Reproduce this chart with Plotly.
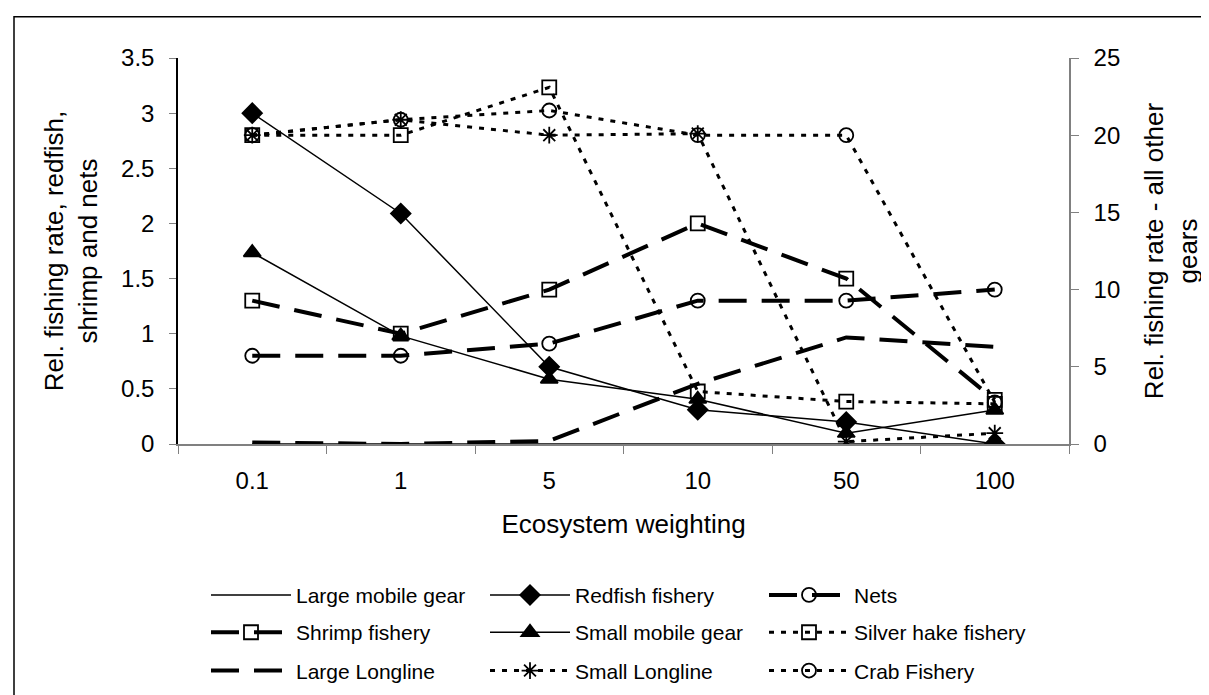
import plotly.graph_objects as go

# ---------------- data ----------------
categories = ["0.1", "1", "5", "10", "50", "100"]

large_mobile_gear = [0, 0, 0, 0, 0, 0]
redfish_fishery = [3.0, 2.09, 0.70, 0.31, 0.20, 0.0]
nets = [0.80, 0.80, 0.91, 1.30, 1.30, 1.40]
shrimp_fishery = [1.30, 1.00, 1.40, 2.00, 1.50, 0.40]
small_mobile_gear = [12.4, 7.0, 4.2, 2.9, 0.7, 2.2]
silver_hake_fishery = [20.0, 20.0, 23.1, 3.4, 2.75, 2.6]
large_longline = [0.1, 0.0, 0.2, 3.9, 6.9, 6.3]
small_longline = [20.0, 21.0, 20.0, 20.1, 0.15, 0.7]
crab_fishery = [20.0, 21.0, 21.6, 20.0, 20.0, 2.7]

left_ticks = [0, 0.5, 1, 1.5, 2, 2.5, 3, 3.5]
right_ticks = [0, 5, 10, 15, 20, 25]

# ---------------- styling ----------------
FONT = "Arial, Liberation Sans, sans-serif"
BLACK = "#000000"
GRAY = "#808080"
THICK_DASH = "28px,15px"
DOT = "5px,7px"

W, H = 1209, 695
L, R, T, B = 170, 148, 50, 252
PW = W - L - R
PH = H - T - B


def px_to_paper_x(px):
    return (px - L) / PW


def px_to_paper_y(py):
    return (H - B - py) / PH


fig = go.Figure()

series = [
    # name, values, axis, line width, dash, marker symbol, legend
    ("Large mobile gear", large_mobile_gear, "y2", 1.5, "solid", None, "legend"),
    ("Redfish fishery", redfish_fishery, "y", 1.5, "solid", "diamond", "legend"),
    ("Nets", nets, "y", 4, THICK_DASH, "circle-open", "legend"),
    ("Shrimp fishery", shrimp_fishery, "y", 4, THICK_DASH, "square-open", "legend2"),
    ("Small mobile gear", small_mobile_gear, "y2", 1.5, "solid", "triangle-up", "legend2"),
    ("Silver hake fishery", silver_hake_fishery, "y2", 3, DOT, "square-open", "legend2"),
    ("Large Longline", large_longline, "y2", 4, THICK_DASH, None, "legend3"),
    ("Small Longline", small_longline, "y2", 3, DOT, "asterisk-open", "legend3"),
    ("Crab Fishery", crab_fishery, "y2", 3, DOT, "circle-open", "legend3"),
]

for name, vals, axis, lw, dash, sym, leg in series:
    kw = dict(
        x=categories,
        y=vals,
        name=name,
        yaxis=axis,
        legend=leg,
        line=dict(color=BLACK, width=lw, dash=dash),
    )
    if sym is None:
        kw["mode"] = "lines"
    else:
        kw["mode"] = "lines+markers"
        kw["marker"] = dict(
            symbol=sym,
            size=15 if sym in ("diamond", "triangle-up") else 14,
            color=BLACK,
            line=dict(color=BLACK, width=1.8),
        )
    fig.add_trace(go.Scatter(**kw))

legend_common = dict(
    orientation="h",
    xanchor="left",
    yanchor="middle",
    x=px_to_paper_x(198),
    itemwidth=80,
    entrywidth=184,
    entrywidthmode="pixels",
    font=dict(family=FONT, size=21, color=BLACK),
    bgcolor="rgba(0,0,0,0)",
    borderwidth=0,
    traceorder="normal",
)

fig.update_layout(
    width=W,
    height=H,
    margin=dict(l=L, r=R, t=T, b=B, pad=0),
    paper_bgcolor="white",
    plot_bgcolor="white",
    font=dict(family=FONT, size=24, color=BLACK),
    showlegend=True,
    legend=dict(**legend_common, y=px_to_paper_y(597)),
    legend2=dict(**legend_common, y=px_to_paper_y(635)),
    legend3=dict(**legend_common, y=px_to_paper_y(674)),
    xaxis=dict(
        type="category",
        categoryorder="array",
        categoryarray=categories,
        range=[-0.5, len(categories) - 0.5],
        tickson="boundaries",
        ticks="outside",
        ticklen=8,
        tickcolor=GRAY,
        showline=True,
        linecolor=GRAY,
        linewidth=1.5,
        showgrid=False,
        zeroline=False,
        tickfont=dict(size=24),
        ticklabelstandoff=14,
        title=dict(text="Ecosystem weighting", font=dict(size=26), standoff=22),
    ),
    yaxis=dict(
        range=[0, 3.5],
        tickmode="array",
        tickvals=left_ticks,
        ticks="outside",
        ticklen=7,
        tickcolor=GRAY,
        showline=True,
        linecolor=BLACK,
        linewidth=1.5,
        showgrid=False,
        zeroline=False,
        tickfont=dict(size=24),
        ticklabelstandoff=10,
        title=dict(text="Rel. fishing rate, redfish,<br>shrimp and nets",
                   font=dict(size=26), standoff=16),
    ),
    yaxis2=dict(
        overlaying="y",
        side="right",
        range=[0, 25],
        tickmode="array",
        tickvals=right_ticks,
        ticks="outside",
        ticklen=8,
        tickcolor=GRAY,
        showline=True,
        linecolor=GRAY,
        linewidth=1.5,
        showgrid=False,
        zeroline=False,
        tickfont=dict(size=24),
        ticklabelstandoff=10,
        title=dict(text="Rel. fishing rate - all other<br>gears",
                   font=dict(size=26), standoff=26),
    ),
    shapes=[
        dict(
            type="rect",
            xref="paper",
            yref="paper",
            x0=px_to_paper_x(6),
            x1=px_to_paper_x(1203),
            y0=px_to_paper_y(705),
            y1=px_to_paper_y(8),
            line=dict(color=BLACK, width=1.5),
            fillcolor="rgba(0,0,0,0)",
            layer="below",
        )
    ],
)

fig.write_html("out.html")
